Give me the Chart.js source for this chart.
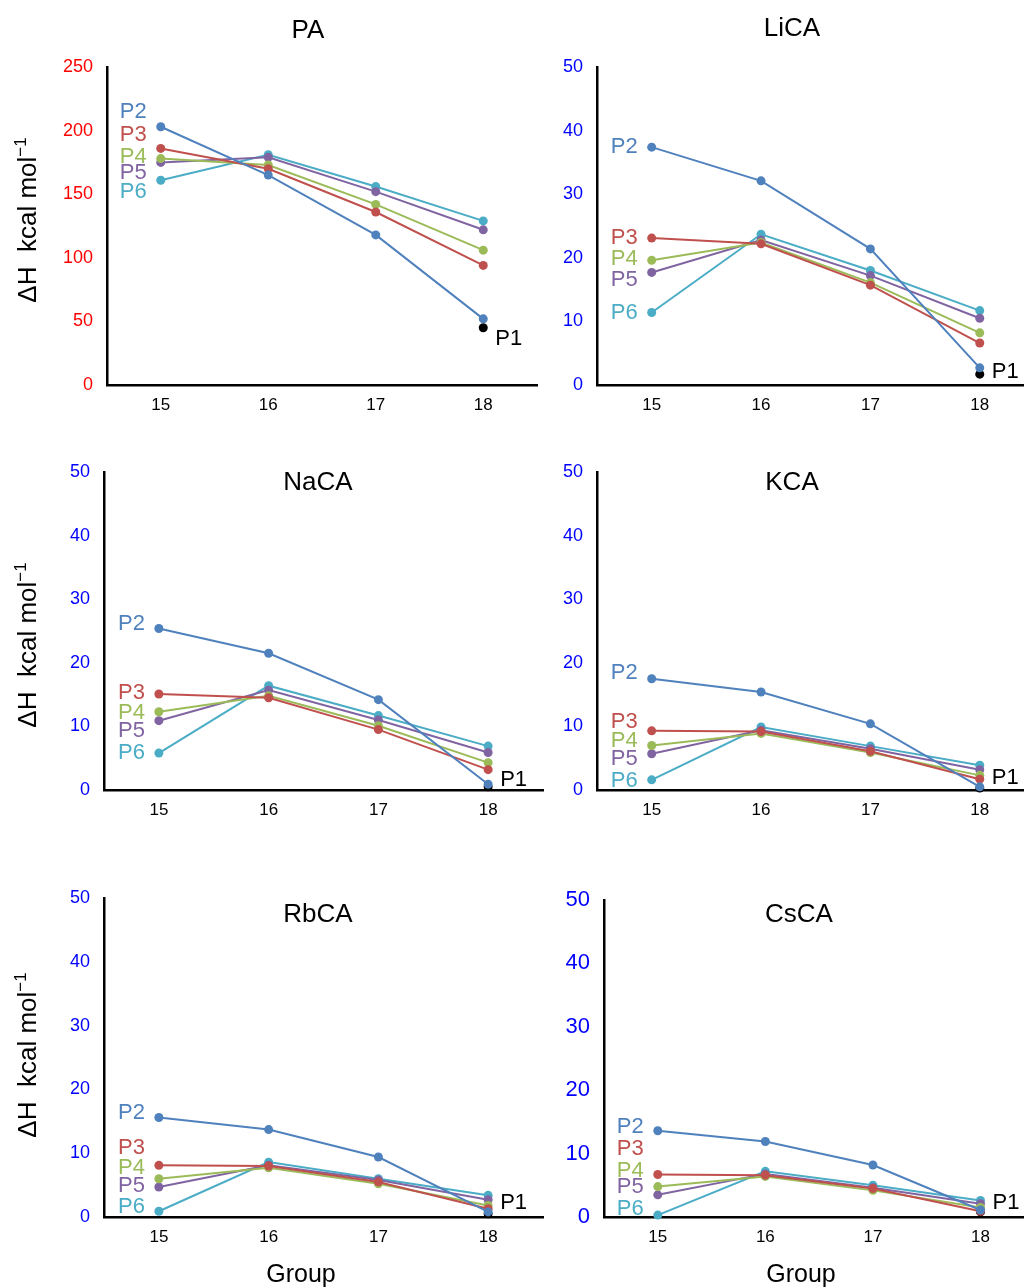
<!DOCTYPE html>
<html>
<head>
<meta charset="utf-8">
<script src="https://cdn.jsdelivr.net/npm/chart.js@4.4.1/dist/chart.umd.min.js"></script>
<style>
  body { margin: 0; width: 1028px; height: 1287px; overflow: hidden; background: #fff; position: relative;
         font-family: "Liberation Sans", Arial, sans-serif; }
  canvas { position: absolute; }
  .t { position: absolute; transform: translate(-50%, -50%); white-space: nowrap; color: #000; }
  .title { font-size: 26px; }
  .ylab { font-size: 26px; transform: translate(-50%, -50%) rotate(-90deg); }
  .ylab sup { font-size: 17px; }
  .xlab { font-size: 25px; }
</style>
</head>
<body>
<canvas id="c0"></canvas>
<canvas id="c1"></canvas>
<canvas id="c2"></canvas>
<canvas id="c3"></canvas>
<canvas id="c4"></canvas>
<canvas id="c5"></canvas>

<div class="t title" style="left:308px;top:29px">PA</div>
<div class="t title" style="left:792px;top:27px">LiCA</div>
<div class="t title" style="left:318px;top:481px">NaCA</div>
<div class="t title" style="left:792px;top:481px">KCA</div>
<div class="t title" style="left:318px;top:913px">RbCA</div>
<div class="t title" style="left:799px;top:913px">CsCA</div>

<div class="t ylab" style="left:27px;top:220px">ΔH&nbsp;&nbsp;kcal mol<sup>−1</sup></div>
<div class="t ylab" style="left:27px;top:645px">ΔH&nbsp;&nbsp;kcal mol<sup>−1</sup></div>
<div class="t ylab" style="left:27px;top:1055px">ΔH&nbsp;&nbsp;kcal mol<sup>−1</sup></div>

<div class="t xlab" style="left:301px;top:1273px">Group</div>
<div class="t xlab" style="left:801px;top:1273px">Group</div>

<script>
// groups on the x axis
const groups = [15, 16, 17, 18];
const seriesNames = ['P2', 'P3', 'P4', 'P5', 'P6'];
const seriesColors = ['#4F81BD', '#C0504D', '#9BBB59', '#8064A2', '#4BACC6'];

// values per panel, rows are P2..P6 over groups 15..18
const paValues = [
    [203, 165, 118, 52],
    [186, 170, 136, 94],
    [178, 173, 142, 106],
    [175, 179, 152, 122],
    [161, 181, 156, 129]
];
const licaValues = [
    [37.4, 32.1, 21.4, 2.7],
    [23.1, 22.2, 15.7, 6.6],
    [19.6, 22.4, 16.1, 8.2],
    [17.7, 22.8, 17.2, 10.5],
    [11.4, 23.7, 18.0, 11.7]
];
const nacaValues = [
    [25.4, 21.5, 14.2, 0.9],
    [15.1, 14.5, 9.5, 3.2],
    [12.3, 14.8, 10.1, 4.3],
    [10.9, 15.7, 11.0, 5.9],
    [5.8, 16.4, 11.7, 6.9]
];
const kcaValues = [
    [17.5, 15.4, 10.4, 0.5],
    [9.3, 9.2, 6.1, 1.7],
    [7.0, 8.9, 5.9, 2.3],
    [5.7, 9.4, 6.5, 3.2],
    [1.6, 9.9, 6.9, 3.9]
];
const rbcaValues = [
    [15.6, 13.7, 9.4, 0.8],
    [8.1, 8.0, 5.5, 1.3],
    [6.0, 7.7, 5.2, 1.8],
    [4.7, 8.1, 5.8, 2.7],
    [0.9, 8.6, 6.0, 3.4]
];
const cscaValues = [
    [13.6, 11.9, 8.2, 1.1],
    [6.7, 6.6, 4.5, 0.9],
    [4.8, 6.4, 4.2, 1.5],
    [3.5, 6.8, 4.6, 2.1],
    [0.3, 7.2, 5.0, 2.6]
];
// P1 only exists at group 18
const p1Values = [45, 1.7, 0.5, 0.3, 0.5, 0.8];

// layout of each panel (page pixels) and where the series names sit
const panels = [
    { values: paValues, canvas: [0, 40, 560, 400], area: [107, 67, 537, 385], xMax: 18.5, yMax: 250, yStep: 50,
      tickColor: '#ff0000', tickSize: 18, nameY: [214.4, 196.8, 179.5, 167, 152], p1Y: 36 },
    { values: licaValues, canvas: [490, 40, 538, 400], area: [597, 67, 1028, 385], xMax: 18.4, yMax: 50, yStep: 10,
      tickColor: '#0000ff', tickSize: 18, nameY: [37.4, 23.1, 19.8, 16.5, 11.4], p1Y: 2.0 },
    { values: nacaValues, canvas: [0, 445, 560, 385], area: [104, 472, 543, 790], xMax: 18.5, yMax: 50, yStep: 10,
      tickColor: '#0000ff', tickSize: 18, nameY: [26.1, 15.3, 12.1, 9.3, 5.8], p1Y: 1.6 },
    { values: kcaValues, canvas: [490, 445, 538, 385], area: [597, 472, 1028, 790], xMax: 18.4, yMax: 50, yStep: 10,
      tickColor: '#0000ff', tickSize: 18, nameY: [18.4, 10.7, 7.7, 4.9, 1.4], p1Y: 1.9 },
    { values: rbcaValues, canvas: [0, 870, 560, 417], area: [104, 898, 543, 1217], xMax: 18.5, yMax: 50, yStep: 10,
      tickColor: '#0000ff', tickSize: 18, nameY: [16.3, 10.8, 7.7, 4.9, 1.6], p1Y: 2.2 },
    { values: cscaValues, canvas: [490, 870, 538, 417], area: [604, 900, 1028, 1217], xMax: 18.4, yMax: 50, yStep: 10,
      tickColor: '#0000ff', tickSize: 22, nameY: [14.2, 10.7, 7.3, 4.7, 1.3], p1Y: 2.2 }
];

const FONT = '"Liberation Sans", Arial, sans-serif';

const nameLabels = {
    id: 'nameLabels',
    afterDatasetsDraw(chart, args, opts) {
        const ctx = chart.ctx;
        const xs = chart.scales.x, ys = chart.scales.y;
        ctx.save();
        ctx.font = '22px ' + FONT;
        ctx.textAlign = 'right';
        ctx.textBaseline = 'middle';
        opts.nameY.forEach((v, i) => {
            ctx.fillStyle = seriesColors[i];
            ctx.fillText(seriesNames[i], xs.getPixelForValue(groups[0]) - 14, ys.getPixelForValue(v));
        });
        ctx.textAlign = 'left';
        ctx.fillStyle = '#000';
        ctx.fillText('P1', xs.getPixelForValue(groups[3]) + 12, ys.getPixelForValue(opts.p1Y));
        ctx.restore();
    }
};

panels.forEach((p, k) => {
    const [cl, ct, cw, ch] = p.canvas;
    const [al, at, ar, ab] = p.area;
    const el = document.getElementById('c' + k);
    el.width = cw; el.height = ch;
    el.style.left = cl + 'px'; el.style.top = ct + 'px';

    const datasets = p.values.map((row, i) => ({
        label: seriesNames[i],
        data: groups.map((g, j) => ({ x: g, y: row[j] })),
        borderColor: seriesColors[i],
        backgroundColor: seriesColors[i],
        borderWidth: 2,
        pointRadius: 4.5,
        pointBorderWidth: 0,
        clip: false
    }));
    datasets.push({
        label: 'P1',
        data: [{ x: groups[3], y: p1Values[k] }],
        borderColor: '#000',
        backgroundColor: '#000',
        showLine: false,
        pointRadius: 4.5,
        pointBorderWidth: 0,
        clip: false
    });

    new Chart(el, {
        type: 'line',
        data: { datasets: datasets },
        plugins: [nameLabels],
        options: {
            responsive: false,
            animation: false,
            layout: { padding: { left: 0, top: at - ct, right: cl + cw - ar, bottom: 0 } },
            plugins: {
                legend: { display: false },
                tooltip: { enabled: false },
                nameLabels: { nameY: p.nameY, p1Y: p.p1Y }
            },
            scales: {
                x: {
                    type: 'linear',
                    min: 14.5,
                    max: p.xMax,
                    afterBuildTicks: s => { s.ticks = groups.map(v => ({ value: v })); },
                    afterFit: s => { s.height = ct + ch - ab; },
                    grid: { display: false, drawTicks: false },
                    border: { display: true, color: '#000', width: 2.5 },
                    ticks: { color: '#000', padding: 10, font: { size: 17, family: FONT } }
                },
                y: {
                    min: 0,
                    max: p.yMax,
                    afterFit: s => { s.width = al - cl; },
                    grid: { display: false, drawTicks: false },
                    border: { display: true, color: '#000', width: 2.5 },
                    ticks: { stepSize: p.yStep, color: p.tickColor, padding: 14, font: { size: p.tickSize, family: FONT } }
                }
            }
        }
    });
});
</script>
</body>
</html>
